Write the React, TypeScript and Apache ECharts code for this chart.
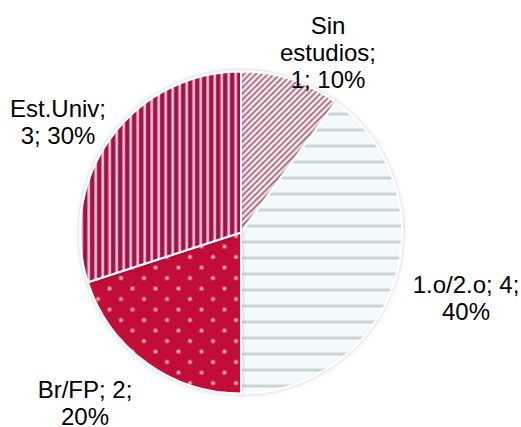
import React, { useEffect, useRef } from "react";
import * as echarts from "echarts";

const CATEGORIES = ["Sin estudios", "1.o/2.o", "Br/FP", "Est.Univ"];
const VALUES = [1, 4, 2, 3];

// layout only (label anchor points in px, wrap mode per label)
const LABEL_POS: [number, number][] = [
  [328, 52],
  [466, 298],
  [85, 403],
  [58, 122],
];
const LABEL_MODE = [0, 1, 1, 2];

function makeCanvas(w: number, h: number, draw: (c: CanvasRenderingContext2D) => void) {
  const cv = document.createElement("canvas");
  cv.width = w;
  cv.height = h;
  const ctx = cv.getContext("2d")!;
  draw(ctx);
  return cv;
}

function diagPattern() {
  return makeCanvas(6, 6, (c) => {
    c.fillStyle = "#f8e4ea";
    c.fillRect(0, 0, 6, 6);
    c.strokeStyle = "#a87888";
    c.lineWidth = 1.8;
    c.beginPath();
    c.moveTo(-1, 7);
    c.lineTo(7, -1);
    c.moveTo(-4, 4);
    c.lineTo(4, -4);
    c.moveTo(2, 10);
    c.lineTo(10, 2);
    c.stroke();
  });
}

function hStripePattern() {
  return makeCanvas(4, 16, (c) => {
    c.fillStyle = "#f3fafb";
    c.fillRect(0, 0, 4, 16);
    c.fillStyle = "#e2e8e9";
    c.fillRect(0, 0, 4, 1);
    c.fillStyle = "#ccd3d4";
    c.fillRect(0, 1, 4, 2);
    c.fillStyle = "#e2e8e9";
    c.fillRect(0, 3, 4, 1);
  });
}

function dotPattern() {
  return makeCanvas(23, 21, (c) => {
    c.fillStyle = "#c20e38";
    c.fillRect(0, 0, 23, 21);
    const dots = [
      [6, 5],
      [17.5, 15.5],
    ];
    for (const [x, y] of dots) {
      c.fillStyle = "#dc4a68";
      c.beginPath();
      c.arc(x, y, 2.6, 0, Math.PI * 2);
      c.fill();
      c.fillStyle = "#f6aebe";
      c.beginPath();
      c.arc(x, y, 1.5, 0, Math.PI * 2);
      c.fill();
    }
  });
}

function vStripePattern() {
  const cols = ["#961846", "#961846", "#a81c4e", "#dc7094", "#f8cad8", "#f0a6bf", "#b8285a"];
  return makeCanvas(cols.length, 4, (c) => {
    cols.forEach((col, i) => {
      c.fillStyle = col;
      c.fillRect(i, 0, 1, 4);
    });
  });
}

export default function App() {
  const ref = useRef<HTMLDivElement>(null);
  useEffect(() => {
    if (!ref.current) return;
    const chart = echarts.init(ref.current, undefined, { renderer: "svg" });
    const patterns = [diagPattern(), hStripePattern(), dotPattern(), vStripePattern()];
    chart.setOption({
      animation: false,
      backgroundColor: "#ffffff",
      series: [
        {
          type: "pie",
          center: [241, 232.5],
          radius: 161,
          startAngle: 90,
          clockwise: true,
          silent: true,
          data: CATEGORIES.map((name, i) => ({
            name,
            value: VALUES[i],
            itemStyle: { color: { image: patterns[i], repeat: "repeat" } },
          })),
          itemStyle: {
            borderColor: "#ffffff",
            borderWidth: 2,
            shadowBlur: 4,
            shadowColor: "rgba(0,0,0,0.22)",
          },
          label: {
            show: true,
            position: "inside",
            overflow: "none",
            color: "#000000",
            fontFamily: "Liberation Sans, Arial, sans-serif",
            fontSize: 24,
            lineHeight: 27,
            align: "center",
            formatter: (p: any) => {
              const mode = LABEL_MODE[p.dataIndex];
              const v = p.value;
              const pc = Math.round(p.percent);
              if (mode === 0) return `${p.name.replace(" ", "\n")};\n${v}; ${pc}%`;
              if (mode === 1) return `${p.name}; ${v};\n${pc}%`;
              return `${p.name};\n${v}; ${pc}%`;
            },
          },
          labelLine: { show: false },
          labelLayout: (params: any) => {
            const pos = LABEL_POS[params.dataIndex];
            return {
              x: pos[0],
              y: pos[1],
              align: "center",
              verticalAlign: "middle",
            };
          },
        },
      ],
    });
    return () => chart.dispose();
  }, []);
  return (
    <div
      ref={ref}
      style={{ position: "absolute", left: 0, top: 0, width: 521, height: 427 }}
    />
  );
}
